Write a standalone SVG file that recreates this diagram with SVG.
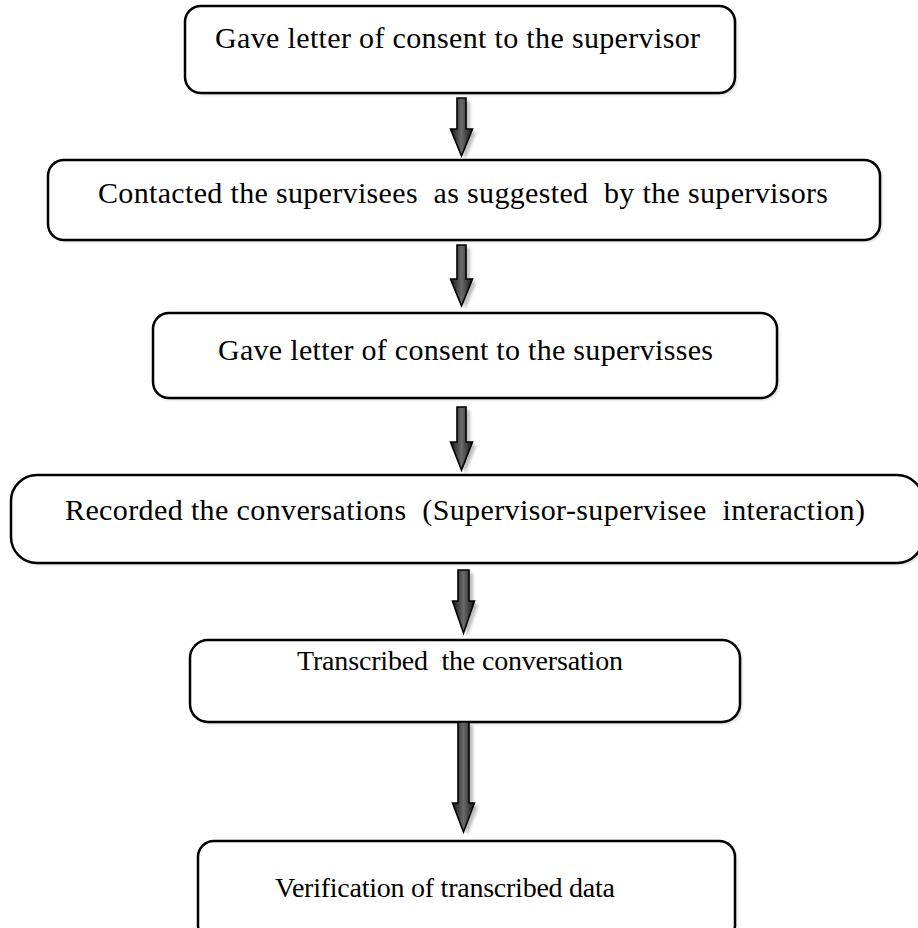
<svg xmlns="http://www.w3.org/2000/svg" width="918" height="928" viewBox="0 0 918 928">
<style>
.box{fill:#fff;stroke:#000;stroke-width:2.5}
.lbl{font-family:"Liberation Serif","Times New Roman",serif;font-size:30px;fill:#000}
.sm{font-size:28px}
.arr{fill:url(#ag);stroke:#000;stroke-width:1.6;stroke-linejoin:miter}
.sh{fill:#888;opacity:.55;filter:url(#blur)}
.bsh{fill:#aaa;opacity:.5;filter:url(#blur)}
</style>
<defs>
<linearGradient id="ag" x1="0" y1="0" x2="1" y2="0">
<stop offset="0" stop-color="#151515"/>
<stop offset="0.5" stop-color="#6a6a6a"/>
<stop offset="1" stop-color="#151515"/>
</linearGradient>
<filter id="blur" x="-50%" y="-50%" width="200%" height="200%"><feGaussianBlur stdDeviation="1.5"/></filter>
</defs>
<rect width="918" height="928" fill="#fff"/>

<g id="node1">
<rect class="bsh" x="187" y="8" width="550" height="87" rx="16"/>
<rect class="box" x="185" y="6" width="550" height="87" rx="16"/>
<text class="lbl" x="215" y="48" textLength="485" lengthAdjust="spacing">Gave letter of consent to the supervisor</text>
</g>
<g id="node2">
<rect class="bsh" x="50" y="162" width="832" height="80" rx="16"/>
<rect class="box" x="48" y="160" width="832" height="80" rx="16"/>
<text class="lbl" x="98" y="203" textLength="730" lengthAdjust="spacing" xml:space="preserve">Contacted the supervisees  as suggested  by the supervisors</text>
</g>
<g id="node3">
<rect class="bsh" x="155" y="315" width="624" height="85" rx="16"/>
<rect class="box" x="153" y="313" width="624" height="85" rx="16"/>
<text class="lbl" x="218" y="360" textLength="495" lengthAdjust="spacing">Gave letter of consent to the supervisses</text>
</g>
<g id="node4">
<rect class="bsh" x="13" y="477" width="912" height="88" rx="26"/>
<rect class="box" x="11" y="475" width="912" height="88" rx="26"/>
<text class="lbl" x="65" y="520" textLength="800" lengthAdjust="spacing" xml:space="preserve">Recorded the conversations  (Supervisor-supervisee  interaction)</text>
</g>
<g id="node5">
<rect class="bsh" x="192" y="642" width="550" height="82" rx="18"/>
<rect class="box" x="190" y="640" width="550" height="82" rx="18"/>
<text class="lbl sm" x="297" y="670" textLength="326" lengthAdjust="spacing" xml:space="preserve">Transcribed  the conversation</text>
</g>
<g id="node6">
<rect class="bsh" x="200" y="843" width="537" height="100" rx="16"/>
<rect class="box" x="198" y="841" width="537" height="100" rx="16"/>
<text class="lbl sm" x="275" y="897" textLength="340" lengthAdjust="spacing">Verification of transcribed data</text>
</g>

<g id="connectors">
<polygon class="sh" transform="translate(4,3)" points="457,98 466,98 466,129 472.5,129 461.5,156 450.5,129 457,129"/>
<polygon class="arr" points="457,98 466,98 466,129 472.5,129 461.5,156 450.5,129 457,129"/>
<polygon class="sh" transform="translate(4,3)" points="457,245 466,245 466,279 472.5,279 461.5,306 450.5,279 457,279"/>
<polygon class="arr" points="457,245 466,245 466,279 472.5,279 461.5,306 450.5,279 457,279"/>
<polygon class="sh" transform="translate(4,3)" points="457,407 466,407 466,442 472.5,442 461.5,470 450.5,442 457,442"/>
<polygon class="arr" points="457,407 466,407 466,442 472.5,442 461.5,470 450.5,442 457,442"/>
<polygon class="sh" transform="translate(4,3)" points="458,570 469,570 469,601 474.5,601 463.5,633 452.5,601 458,601"/>
<polygon class="arr" points="458,570 469,570 469,601 474.5,601 463.5,633 452.5,601 458,601"/>
<polygon class="sh" transform="translate(4,3)" points="458,722 469,722 469,803 474.5,803 463.5,832 452.5,803 458,803"/>
<polygon class="arr" points="458,722 469,722 469,803 474.5,803 463.5,832 452.5,803 458,803"/>
</g>
</svg>
